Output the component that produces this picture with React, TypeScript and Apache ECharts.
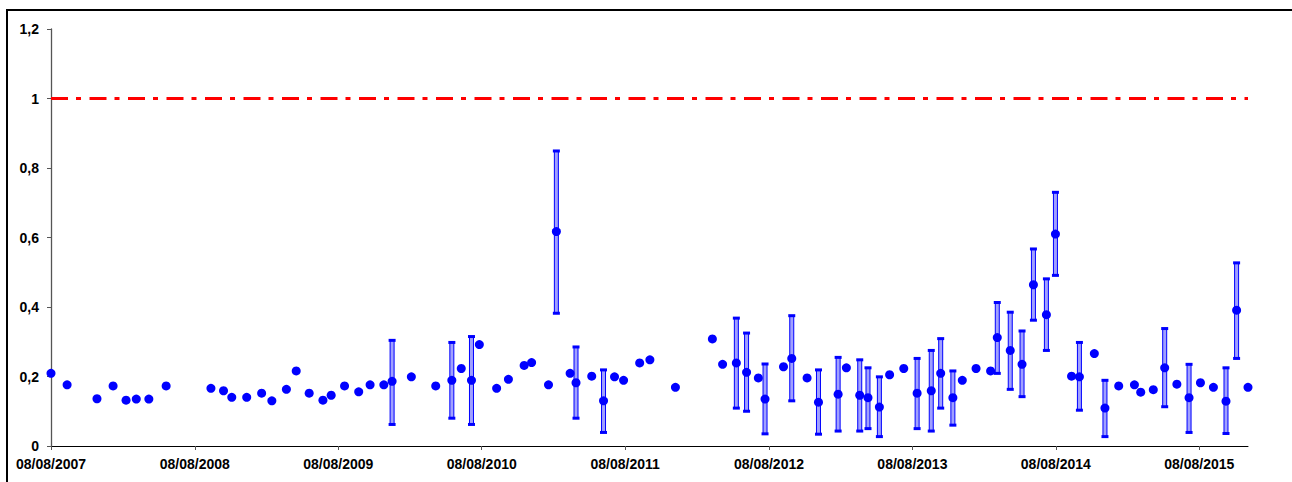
import React, { useEffect, useRef } from "react";
import * as echarts from "echarts";

// Sample dates (dd/mm/yyyy read as ISO) and measured values
const dates: string[] = [
  "2007-08-08", "2007-09-18", "2007-12-03", "2008-01-13", "2008-02-15", "2008-03-12", "2008-04-13", "2008-05-27",
  "2008-09-18", "2008-10-20", "2008-11-10", "2008-12-18", "2009-01-25", "2009-02-20", "2009-03-29", "2009-04-23",
  "2009-05-26", "2009-06-30", "2009-07-21", "2009-08-24", "2009-09-29", "2009-10-28", "2009-12-02", "2009-12-23",
  "2010-02-10", "2010-04-13", "2010-05-24", "2010-06-17", "2010-07-13", "2010-08-02", "2010-09-15", "2010-10-15",
  "2010-11-24", "2010-12-13", "2011-01-25", "2011-02-14", "2011-03-21", "2011-04-05", "2011-05-15", "2011-06-14",
  "2011-07-12", "2011-08-04", "2011-09-14", "2011-10-10", "2011-12-14", "2012-03-17", "2012-04-12", "2012-05-17",
  "2012-06-12", "2012-07-12", "2012-07-29", "2012-09-14", "2012-10-05", "2012-11-13", "2012-12-12", "2013-01-31",
  "2013-02-21", "2013-03-27", "2013-04-17", "2013-05-16", "2013-06-11", "2013-07-17", "2013-08-20", "2013-09-25",
  "2013-10-19", "2013-11-19", "2013-12-13", "2014-01-17", "2014-02-23", "2014-03-12", "2014-04-14", "2014-05-14",
  "2014-06-12", "2014-07-15", "2014-08-07", "2014-09-17", "2014-10-07", "2014-11-14", "2014-12-11", "2015-01-15",
  "2015-02-24", "2015-03-12", "2015-04-13", "2015-05-12", "2015-06-12", "2015-07-13", "2015-08-11", "2015-09-13",
  "2015-10-15", "2015-11-11", "2015-12-10",
];

const values: number[] = [
  0.209, 0.176, 0.136, 0.173, 0.132, 0.135, 0.135, 0.173,
  0.166, 0.159, 0.140, 0.140, 0.152, 0.130, 0.163, 0.216,
  0.152, 0.132, 0.146, 0.173, 0.156, 0.176, 0.176, 0.186,
  0.199, 0.173, 0.189, 0.223, 0.189, 0.292, 0.166, 0.192,
  0.232, 0.240, 0.176, 0.617, 0.209, 0.182, 0.201, 0.130,
  0.199, 0.189, 0.239, 0.248, 0.169, 0.308, 0.235, 0.239,
  0.212, 0.196, 0.135, 0.228, 0.252, 0.196, 0.126, 0.149,
  0.225, 0.146, 0.139, 0.112, 0.205, 0.223, 0.152, 0.159,
  0.209, 0.139, 0.189, 0.223, 0.216, 0.312, 0.275, 0.235,
  0.464, 0.378, 0.610, 0.201, 0.199, 0.266, 0.109, 0.173,
  0.176, 0.155, 0.162, 0.225, 0.178, 0.139, 0.182, 0.169,
  0.129, 0.391, 0.169,
];

// Lower / upper error bounds (null = no error bar)
const lows: (number | null)[] = [
  null, null, null, null, null, null, null, null,
  null, null, null, null, null, null, null, null,
  null, null, null, null, null, null, null, 0.062,
  null, null, 0.080, null, 0.062, null, null, null,
  null, null, null, 0.382, null, 0.080, null, 0.039,
  null, null, null, null, null, null, null, 0.109,
  0.100, null, 0.035, null, 0.130, null, 0.034, 0.043,
  null, 0.043, 0.050, 0.027, null, null, 0.050, 0.043,
  0.109, 0.060, null, null, null, 0.209, 0.163, 0.142,
  0.362, 0.275, 0.491, null, 0.103, null, 0.027, null,
  null, null, null, 0.113, null, 0.039, null, null,
  0.036, 0.252, null,
];

const highs: (number | null)[] = [
  null, null, null, null, null, null, null, null,
  null, null, null, null, null, null, null, null,
  null, null, null, null, null, null, null, 0.304,
  null, null, 0.298, null, 0.315, null, null, null,
  null, null, null, 0.849, null, 0.285, null, 0.219,
  null, null, null, null, null, null, null, 0.368,
  0.325, null, 0.236, null, 0.375, null, 0.219, 0.255,
  null, 0.248, 0.225, 0.199, null, null, 0.252, 0.275,
  0.309, 0.216, null, null, null, 0.413, 0.385, 0.331,
  0.567, 0.481, 0.730, null, 0.298, null, 0.189, null,
  null, null, null, 0.338, null, 0.235, null, null,
  0.225, 0.527, null,
];

const tickDates: string[] = [
  "2007-08-08", "2008-08-08", "2009-08-08", "2010-08-08", "2011-08-08",
  "2012-08-08", "2013-08-08", "2014-08-08", "2015-08-08",
];

const axisStart = "2007-08-08";
const axisEnd = "2015-12-10";
const limitValue = 1;

const ts = (s: string) => {
  const [y, m, d] = s.split("-").map(Number);
  return Date.UTC(y, m - 1, d);
};

const pad = (n: number) => (n < 10 ? "0" + n : "" + n);
const fmtDate = (v: number) => {
  const d = new Date(v);
  return pad(d.getUTCDate()) + "/" + pad(d.getUTCMonth() + 1) + "/" + d.getUTCFullYear();
};

export default function App() {
  const ref = useRef<HTMLDivElement>(null);

  useEffect(() => {
    if (!ref.current) return;
    const chart = echarts.init(ref.current, undefined, { renderer: "svg" });

    const pointData = dates.map((d, i) => [ts(d), values[i]]);
    const errData: number[][] = [];
    dates.forEach((d, i) => {
      const lo = lows[i];
      const hi = highs[i];
      if (lo != null && hi != null) errData.push([ts(d), lo, hi]);
    });
    const tickValues = tickDates.map(ts);
    const font = "'Liberation Sans', Arial, sans-serif";

    chart.setOption({
      animation: false,
      backgroundColor: "#ffffff",
      graphic: [
        {
          type: "rect",
          shape: { x: 7, y: 10, width: 1320, height: 520 },
          style: { fill: "none", stroke: "#000000", lineWidth: 2 },
          silent: true,
          z: 0,
        },
      ],
      grid: { left: 51, right: 44, top: 29, bottom: 36, containLabel: false },
      xAxis: {
        type: "value",
        min: ts(axisStart),
        max: ts(axisEnd),
        scale: true,
        splitLine: { show: false },
        axisLine: { show: true, lineStyle: { color: "#000000", width: 1 } },
        axisTick: {
          show: true,
          length: 4,
          customValues: tickValues,
          lineStyle: { color: "#555555", width: 1 },
        },
        axisLabel: {
          customValues: tickValues,
          formatter: (v: number) => fmtDate(v),
          color: "#000000",
          fontWeight: "bold",
          fontSize: 14,
          fontFamily: font,
          margin: 11,
          hideOverlap: false,
        },
      },
      yAxis: {
        type: "value",
        min: 0,
        max: 1.2,
        interval: 0.2,
        splitLine: { show: false },
        axisLine: { show: true, lineStyle: { color: "#555555", width: 1.3 } },
        axisTick: { show: true, length: 4, lineStyle: { color: "#555555", width: 1 } },
        axisLabel: {
          formatter: (v: number) => String(Math.round(v * 10) / 10).replace(".", ","),
          color: "#000000",
          fontWeight: "bold",
          fontSize: 14,
          fontFamily: font,
          margin: 12,
        },
      },
      series: [
        {
          type: "custom",
          name: "errors",
          data: errData,
          z: 2,
          clip: false,
          renderItem: (params: any, api: any) => {
            const x = api.value(0);
            const top = api.coord([x, api.value(2)]);
            const bot = api.coord([x, api.value(1)]);
            const cx = top[0];
            const capW = 7;
            const capH = 3;
            return {
              type: "group",
              children: [
                {
                  type: "rect",
                  shape: { x: cx - 2, y: top[1], width: 4, height: bot[1] - top[1] },
                  style: { fill: "#a0a0ff", stroke: "#0000ff", lineWidth: 1 },
                },
                {
                  type: "rect",
                  shape: { x: cx - capW / 2, y: top[1] - capH / 2, width: capW, height: capH },
                  style: { fill: "#0000ff" },
                },
                {
                  type: "rect",
                  shape: { x: cx - capW / 2, y: bot[1] - capH / 2, width: capW, height: capH },
                  style: { fill: "#0000ff" },
                },
              ],
            };
          },
        },
        {
          type: "scatter",
          name: "values",
          data: pointData,
          symbol: "circle",
          symbolSize: 9,
          clip: false,
          z: 3,
          itemStyle: { color: "#0000ff", opacity: 1 },
          markLine: {
            silent: true,
            symbol: ["none", "none"],
            label: { show: false },
            lineStyle: { color: "#ff0000", width: 3, type: [17, 8, 5, 8.5] },
            data: [{ yAxis: limitValue }],
          },
        },
      ],
    });

    return () => chart.dispose();
  }, []);

  return (
    <div
      ref={ref}
      style={{ position: "absolute", left: 0, top: 0, width: 1292, height: 482 }}
    />
  );
}
